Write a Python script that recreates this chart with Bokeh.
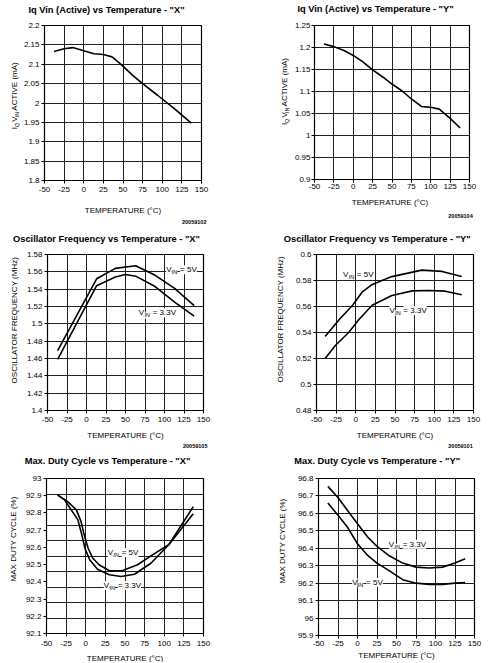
import math
from bokeh.plotting import figure
from bokeh.models import Range1d, FixedTicker, Label
from bokeh.layouts import column, row
from bokeh.embed import file_html
from bokeh.resources import INLINE

FONT = "Liberation Sans"

# ---------------- data ----------------
TEMP_TICKS = [-50, -25, 0, 25, 50, 75, 100, 125, 150]
TEMP_TICK_LABELS = ["-50", "-25", "0", "25", "50", "75", "100", "125", "150"]
X_TITLE = "TEMPERATURE (°C)"

# Iq Vin (Active) vs Temperature - "X"
IQX_T = [-38, -25, -14, 0, 13, 25, 36, 49, 62, 75, 94, 115, 137]
IQX_MA = [2.133, 2.140, 2.143, 2.135, 2.127, 2.125, 2.119, 2.097, 2.072, 2.050, 2.020, 1.986, 1.948]
IQX_TICKS = [1.8, 1.85, 1.9, 1.95, 2.0, 2.05, 2.1, 2.15, 2.2]
IQX_TICK_LABELS = ["1.8", "1.85", "1.9", "1.95", "2", "2.05", "2.1", "2.15", "2.2"]

# Iq Vin (Active) vs Temperature - "Y"
IQY_T = [-38, -25, -12, 0, 12, 25, 38, 50, 64, 75, 88, 100, 111, 125, 138]
IQY_MA = [1.208, 1.202, 1.193, 1.182, 1.168, 1.149, 1.133, 1.117, 1.100, 1.083, 1.066, 1.064, 1.060, 1.039, 1.017]
IQY_TICKS = [0.9, 0.95, 1.0, 1.05, 1.1, 1.15, 1.2, 1.25]
IQY_TICK_LABELS = ["0.9", "0.95", "1", "1.05", "1.1", "1.15", "1.2", "1.25"]

# Oscillator Frequency vs Temperature - "X"
OSCX_5V_T = [-37, 13, 37, 63, 88, 113, 138]
OSCX_5V_MHZ = [1.469, 1.552, 1.564, 1.567, 1.556, 1.541, 1.521]
OSCX_33V_T = [-37, 13, 37, 50, 63, 88, 113, 138]
OSCX_33V_MHZ = [1.459, 1.544, 1.554, 1.557, 1.555, 1.543, 1.525, 1.509]
OSCX_TICKS = [1.4, 1.42, 1.44, 1.46, 1.48, 1.5, 1.52, 1.54, 1.56, 1.58]
OSCX_TICK_LABELS = ["1.4", "1.42", "1.44", "1.46", "1.48", "1.5", "1.52", "1.54", "1.56", "1.58"]

# Oscillator Frequency vs Temperature - "Y"
OSCY_5V_T = [-39, -21, -4, 8, 21, 46, 84, 110, 135]
OSCY_5V_MHZ = [0.537, 0.550, 0.561, 0.571, 0.577, 0.583, 0.588, 0.587, 0.583]
OSCY_33V_T = [-39, -26, -9, 4, 21, 46, 72, 93, 114, 135]
OSCY_33V_MHZ = [0.520, 0.530, 0.540, 0.550, 0.561, 0.5685, 0.572, 0.5723, 0.5718, 0.569]
OSCY_TICKS = [0.48, 0.5, 0.52, 0.54, 0.56, 0.58, 0.6]
OSCY_TICK_LABELS = ["0.48", "0.5", "0.52", "0.54", "0.56", "0.58", "0.6"]

# Max. Duty Cycle vs Temperature - "X"
DUTYX_5V_T = [-36, -23, -12, -6, -2, 3, 9, 17, 30, 47, 66, 83, 106, 137]
DUTYX_5V_PCT = [92.905, 92.866, 92.818, 92.75, 92.673, 92.595, 92.537, 92.499, 92.464, 92.466,
                92.499, 92.551, 92.617, 92.795]
DUTYX_33V_T = [-36, -27, -10, -5, -1, 5, 15, 30, 45, 62, 83, 106, 137]
DUTYX_33V_PCT = [92.905, 92.876, 92.76, 92.673, 92.595, 92.528, 92.473, 92.441, 92.431, 92.444,
                 92.508, 92.617, 92.837]
DUTYX_TICKS = [92.1, 92.2, 92.3, 92.4, 92.5, 92.6, 92.7, 92.8, 92.9, 93.0]
DUTYX_TICK_LABELS = ["92.1", "92.2", "92.3", "92.4", "92.5", "92.6", "92.7", "92.8", "92.9", "93"]
# this chart's printed grid has ten divisions while its scale has nine
DUTYX_GRID = [92.1, 92.19, 92.28, 92.37, 92.46, 92.55, 92.64, 92.73, 92.82, 92.91, 93.0]

# Max. Duty Cycle vs Temperature - "Y"
DUTYY_T = [-38, -25, -13, 0, 13, 25, 40, 58, 75, 92, 109, 125, 138]
DUTYY_33V_PCT = [96.755, 96.691, 96.618, 96.541, 96.465, 96.411, 96.359, 96.315, 96.292, 96.287,
                 96.292, 96.315, 96.340]
DUTYY_5V_PCT = [96.660, 96.589, 96.522, 96.426, 96.359, 96.315, 96.273, 96.220, 96.200, 96.193,
                96.193, 96.200, 96.204]
DUTYY_TICKS = [95.9, 96.0, 96.1, 96.2, 96.3, 96.4, 96.5, 96.6, 96.7, 96.8]
DUTYY_TICK_LABELS = ["95.9", "96", "96.1", "96.2", "96.3", "96.4", "96.5", "96.6", "96.7", "96.8"]

# ---------------- helpers ----------------
ARIAL = {" ": 278, "(": 333, ")": 333, "%": 889, ".": 278, "=": 584, "°": 400,
         "A": 667, "B": 667, "C": 722, "D": 722, "E": 667, "F": 611, "G": 778, "H": 722,
         "I": 278, "J": 500, "K": 667, "L": 556, "M": 833, "N": 722, "O": 778, "P": 667,
         "Q": 778, "R": 722, "S": 667, "T": 611, "U": 722, "V": 667, "W": 944, "X": 667,
         "Y": 667, "Z": 611, "a": 556, "m": 833, "z": 500}
MAIN, SUB, SUBDROP = 8, 5.5, 2.6
LW = 1.6


def tw(s, size):
    return sum(ARIAL.get(c, 556) for c in s) / 1000.0 * size


def split_lead(t):
    s = t.lstrip(" ")
    return len(t) - len(s), s


def label(p, x, y, text, size=8, bold=False, align="left", angle=0.0, bg=None,
          x_offset=0, y_offset=0):
    kw = dict(x=x, y=y, x_offset=x_offset, y_offset=y_offset, text=text,
              text_font=FONT, text_font_size=f"{size}px",
              text_font_style="bold" if bold else "normal", text_color="black",
              text_align=align, text_baseline="middle", angle=angle)
    if bg:
        kw["background_fill_color"] = bg
    p.add_layout(Label(**kw))


def strip(w, h):
    """Plain text panel: data units are pixels from its top-left corner."""
    p = figure(width=w, height=h, x_range=Range1d(0, w), y_range=Range1d(h, 0),
               x_axis_type=None, y_axis_type=None, min_border=0,
               output_backend="svg", toolbar_location=None, tools="")
    p.outline_line_color = None
    p.background_fill_color = "white"
    p.border_fill_color = "white"
    return p


def vertical_label(p, cx, cy, parts):
    total = sum(tw(t, SUB if s else MAIN) for t, s in parts)
    y = cy + total / 2.0
    for t, sub in parts:
        size = SUB if sub else MAIN
        n, s = split_lead(t)
        y -= tw(" " * n, size)
        label(p, cx + (SUBDROP if sub else 0), y, s, size=size, angle=math.pi / 2)
        y -= tw(s, size)


def vin_label(p, dx, dy, value):
    """V_IN = value, placed dx right / dy below the frame's top-left corner."""
    x0 = p.x_range.start
    y0 = p.y_range.end
    v_w = tw("V", MAIN)
    sub_w = tw("IN", SUB)
    gap = tw(" ", MAIN) + 0.8
    # main pieces first, subscript last so no background hides it
    label(p, x0, y0, "V", bg="white", x_offset=dx, y_offset=-dy)
    label(p, x0, y0, "= " + value, bg="white", x_offset=dx + v_w + sub_w + gap, y_offset=-dy)
    label(p, x0, y0, "IN", size=SUB, bg="white", x_offset=dx + v_w + 0.3,
          y_offset=-(dy + SUBDROP))


def chart(bl, fw, br, bt, fh, bb, ylo, yhi, yticks, ylabels, xstandoff=3, ystandoff=2):
    p = figure(frame_width=fw, frame_height=fh, min_border_left=bl, min_border_right=br,
               min_border_top=bt, min_border_bottom=bb,
               x_range=Range1d(-50, 150), y_range=Range1d(ylo, yhi),
               output_backend="svg", toolbar_location=None, tools="")
    p.background_fill_color = "white"
    p.border_fill_color = "white"
    p.xaxis.ticker = FixedTicker(ticks=TEMP_TICKS)
    p.xaxis.major_label_overrides = dict(zip(TEMP_TICKS, TEMP_TICK_LABELS))
    p.yaxis.ticker = FixedTicker(ticks=yticks)
    p.yaxis.major_label_overrides = dict(zip(yticks, ylabels))
    for ax in (p.xaxis, p.yaxis):
        ax.axis_line_color = "black"
        ax.major_tick_line_color = "black"
        ax.major_tick_in = 0
        ax.major_tick_out = 3
        ax.minor_tick_line_color = None
        ax.major_label_text_font = FONT
        ax.major_label_text_font_size = "8px"
        ax.major_label_text_color = "black"
    p.xaxis.major_label_standoff = xstandoff
    p.yaxis.major_label_standoff = ystandoff
    p.grid.grid_line_color = "#222222"
    p.grid.grid_line_width = 1
    p.outline_line_color = "black"
    p.outline_line_width = 1.2
    return p


IQ_LABEL = [("I", False), ("Q", True), (" V", False), ("IN", True), (" ACTIVE (mA)", False)]
OSC_LABEL = [("OSCILLATOR FREQUENCY (MHz)", False)]
DUTY_LABEL = [("MAX DUTY CYCLE (%)", False)]

# ================= row 1 =================
T1, T2 = strip(250, 17), strip(247, 17)
label(T1, 106, 9, 'Iq Vin (Active) vs Temperature - "X"', size=9.3, bold=True, align="center")
label(T2, 125, 8.5, 'Iq Vin (Active) vs Temperature - "Y"', size=9.3, bold=True, align="center")

L1, L2 = strip(20, 179), strip(41, 179)
vertical_label(L1, 13.5, 87, IQ_LABEL)
vertical_label(L2, 34, 82, IQ_LABEL)

f1 = chart(24, 157, 49, 8, 155, 16, 1.8, 2.2, IQX_TICKS, IQX_TICK_LABELS)
f1.line(IQX_T, IQX_MA, color="black", line_width=LW)
f2 = chart(21, 155, 30, 6, 154, 19, 0.9, 1.25, IQY_TICKS, IQY_TICK_LABELS, xstandoff=1, ystandoff=1)
f2.line(IQY_T, IQY_MA, color="black", line_width=LW)

B1, B2 = strip(250, 30), strip(247, 30)
label(B1, 122.5, 14, X_TITLE, align="center")
label(B1, 193.7, 25, "20059102", size=5.5, bold=True, align="center")
label(B2, 139.5, 6, X_TITLE, align="center")
label(B2, 210, 19, "20059104", size=5.5, bold=True, align="center")

# ================= row 2 =================
T3, T4 = strip(250, 20), strip(247, 20)
label(T3, 106, 12.3, 'Oscillator Frequency vs Temperature - "X"', size=9.3, bold=True, align="center")
label(T4, 126.7, 12.3, 'Oscillator Frequency vs Temperature - "Y"', size=9.3, bold=True, align="center")

L3, L4 = strip(20, 181), strip(37, 181)
vertical_label(L3, 14, 86, OSC_LABEL)
vertical_label(L4, 30, 85, OSC_LABEL)

f3 = chart(27, 156, 47, 8, 156, 17, 1.4, 1.58, OSCX_TICKS, OSCX_TICK_LABELS)
f3.line(OSCX_5V_T, OSCX_5V_MHZ, color="black", line_width=LW)
f3.line(OSCX_33V_T, OSCX_33V_MHZ, color="black", line_width=LW)
vin_label(f3, 118.7, 15.3, "5V")
vin_label(f3, 91.3, 58.3, "3.3V")

f4 = chart(29, 157, 24, 8, 156, 17, 0.48, 0.6, OSCY_TICKS, OSCY_TICK_LABELS)
f4.line(OSCY_5V_T, OSCY_5V_MHZ, color="black", line_width=LW)
f4.line(OSCY_33V_T, OSCY_33V_MHZ, color="black", line_width=LW)
vin_label(f4, 26.5, 19.5, "5V")
vin_label(f4, 73, 56, "3.3V")

B3, B4 = strip(250, 23), strip(247, 23)
label(B3, 125, 8, X_TITLE, align="center")
label(B3, 194.7, 18.7, "20059105", size=5.5, bold=True, align="center")
label(B4, 144.5, 8, X_TITLE, align="center")
label(B4, 210, 18.7, "20059101", size=5.5, bold=True, align="center")

# ================= row 3 =================
T5, T6 = strip(250, 19), strip(247, 19)
label(T5, 107, 10.7, 'Max. Duty Cycle vs Temperature - "X"', size=9.3, bold=True, align="center")
label(T6, 126.7, 10.7, 'Max. Duty Cycle vs Temperature - "Y"', size=9.3, bold=True, align="center")

L5, L6 = strip(20, 181), strip(38, 181)
vertical_label(L5, 13.3, 78.5, DUTY_LABEL)
vertical_label(L6, 31.7, 81, DUTY_LABEL)

f5 = chart(26, 157, 47, 9, 155, 17, 92.1, 93.0, DUTYX_TICKS, DUTYX_TICK_LABELS, xstandoff=4)
f5.ygrid.ticker = FixedTicker(ticks=DUTYX_GRID)
f5.line(DUTYX_5V_T, DUTYX_5V_PCT, color="black", line_width=LW)
f5.line(DUTYX_33V_T, DUTYX_33V_PCT, color="black", line_width=LW)
vin_label(f5, 61.3, 74, "5V")
vin_label(f5, 57.3, 107, "3.3V")

f6 = chart(30, 156, 23, 6, 157, 18, 95.9, 96.8, DUTYY_TICKS, DUTYY_TICK_LABELS, xstandoff=2)
f6.line(DUTYY_T, DUTYY_33V_PCT, color="black", line_width=LW)
f6.line(DUTYY_T, DUTYY_5V_PCT, color="black", line_width=LW)
vin_label(f6, 70.3, 65.7, "3.3V")
vin_label(f6, 33.7, 104, "5V")

B5, B6 = strip(250, 12), strip(247, 12)
label(B5, 124.5, 7.5, X_TITLE, align="center")
label(B6, 146, 4.5, X_TITLE, align="center")

layout = column(
    row(T1, T2), row(L1, f1, L2, f2), row(B1, B2),
    row(T3, T4), row(L3, f3, L4, f4), row(B3, B4),
    row(T5, T6), row(L5, f5, L6, f6), row(B5, B6),
)
open("out.html", "w").write(file_html(layout, INLINE))
